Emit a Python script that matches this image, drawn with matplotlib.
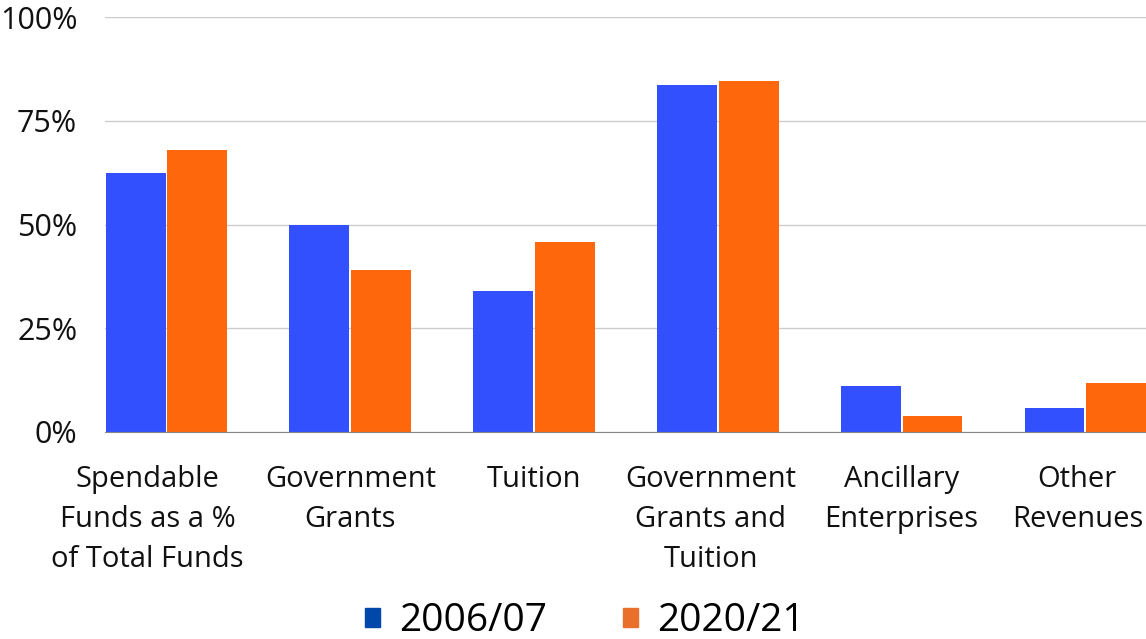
import numpy as np
import matplotlib.pyplot as plt
import matplotlib.transforms as mtransforms
from matplotlib.ticker import FuncFormatter
from matplotlib.patches import Patch

plt.rcParams['font.family'] = ['Open Sans', 'DejaVu Sans']

categories = ["Spendable\nFunds as a %\nof Total Funds", "Government\nGrants", "Tuition",
              "Government\nGrants and\nTuition", "Ancillary\nEnterprises", "Other\nRevenues"]
values_2006 = [62.5, 49.9, 34.0, 83.6, 11.1, 5.7]
values_2020 = [67.9, 39.0, 45.7, 84.7, 3.9, 11.9]

x = np.arange(len(categories))
bar_w = 0.326

fig = plt.figure(figsize=(11.46, 6.39), dpi=100)
ax = fig.add_axes([0.0916, 0.324, 0.9084, 0.649])

ax.bar(x - 0.168, values_2006, width=bar_w, color='#3350FF', zorder=3)
ax.bar(x + 0.168, values_2020, width=bar_w, color='#FF670C', zorder=3)

ax.set_xlim(-0.335, 5.33)
ax.set_ylim(0, 100)
ax.set_yticks([0, 25, 50, 75, 100])
ax.yaxis.set_major_formatter(FuncFormatter(lambda v, p: f"{v:.0f}%"))
ax.grid(axis='y', color='#cccccc', linewidth=1, zorder=0)
for s in ['top', 'right', 'left']:
    ax.spines[s].set_visible(False)
ax.spines['bottom'].set_color('#888888')
ax.spines['bottom'].set_zorder(4)
ax.tick_params(axis='y', length=0, labelsize=22, pad=20, colors='#111111')
ax.tick_params(axis='x', length=0, labelsize=21, pad=24, colors='#111111')
ax.set_xticks(x)
labels = ax.set_xticklabels(categories, linespacing=1.5)

# some labels sit a little off their group centre, as in the original
shifts = {0: -19, 3: -7, 5: -8}
for i, px in shifts.items():
    labels[i].set_transform(labels[i].get_transform() +
                            mtransforms.ScaledTranslation(px / 100, 0, fig.dpi_scale_trans))

handles = [Patch(color='#0047AB', label='2006/07'), Patch(color='#E8702A', label='2020/21')]
fig.legend(handles=handles, loc='center', bbox_to_anchor=(0.5105, 0.028), ncol=2,
           frameon=False, fontsize=28, handlelength=0.39, handleheight=0.39,
           columnspacing=1.95, handletextpad=0.49)

fig.savefig('out.png', dpi=100)
